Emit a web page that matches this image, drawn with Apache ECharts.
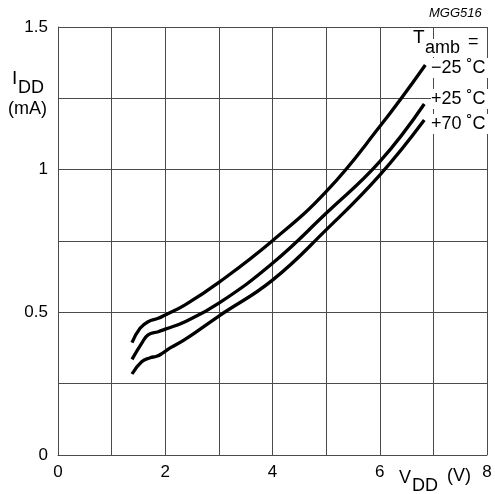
<!DOCTYPE html>
<html>
<head>
<meta charset="utf-8">
<script src="https://cdn.jsdelivr.net/npm/echarts@6/dist/echarts.min.js"></script>
<style>
  html, body { margin: 0; padding: 0; background: #fff; }
  #chart { width: 495px; height: 494px; }
</style>
</head>
<body>
<div id="chart"></div>
<script>
// supply voltage (V) and supply current (mA)
var vddMinus25 = [1.38, 1.53, 1.68, 1.87, 2.0, 2.37, 3.0, 4.0, 5.0, 6.0, 6.85];
var iddMinus25 = [0.394, 0.444, 0.467, 0.479, 0.491, 0.526, 0.605, 0.751, 0.923, 1.151, 1.367];

var vddPlus25 = [1.38, 1.56, 1.68, 1.87, 2.0, 2.37, 3.0, 4.0, 5.0, 6.0, 6.83];
var iddPlus25 = [0.335, 0.391, 0.421, 0.432, 0.441, 0.467, 0.532, 0.672, 0.847, 1.028, 1.230];

var vddPlus70 = [1.38, 1.56, 1.72, 1.84, 1.95, 2.1, 2.37, 3.0, 4.0, 5.0, 6.0, 6.83];
var iddPlus70 = [0.284, 0.327, 0.341, 0.346, 0.357, 0.376, 0.405, 0.487, 0.613, 0.789, 0.981, 1.174];

var xTickLabels = ['0', '2', '4', '6', '8'];
var yTickLabels = ['0', '0.5', '1', '1.5'];
var seriesNames = ['\u221225 \u02daC', '+25 \u02daC', '+70 \u02daC'];

function pairs(xs, ys) {
    var out = [];
    for (var i = 0; i < xs.length; i++) out.push([xs[i], ys[i]]);
    return out;
}

var font = '"Liberation Sans", Arial, Helvetica, sans-serif';
var gridColor = '#4a4a4a';

var chart = echarts.init(document.getElementById('chart'), null, { renderer: 'canvas' });

function lineSeries(name, xs, ys) {
    return {
        name: name,
        type: 'line',
        smooth: 0.45,
        showSymbol: false,
        silent: true,
        z: 3,
        lineStyle: { color: '#000', width: 3.3 },
        data: pairs(xs, ys)
    };
}

function txt(x, y, s, size, extra) {
    var st = { text: s, x: 0, y: 0, fill: '#000', font: (size || 18) + 'px ' + font };
    if (extra) for (var k in extra) st[k] = extra[k];
    return { type: 'text', x: x, y: y, z: 10, style: st };
}

var option = {
    animation: false,
    backgroundColor: '#fff',
    grid: { left: 58, right: 8, top: 27, bottom: 39 },
    xAxis: {
        type: 'value',
        min: 0,
        max: 8,
        interval: 1,
        axisLine: { show: true, lineStyle: { color: gridColor, width: 1 } },
        axisTick: { show: false },
        splitLine: { show: true, lineStyle: { color: gridColor, width: 1 } },
        axisLabel: {
            color: '#000',
            fontFamily: font,
            fontSize: 17,
            margin: 9,
            formatter: function (v) {
                var i = xTickLabels.indexOf(String(v));
                return i >= 0 ? xTickLabels[i] : '';
            }
        }
    },
    yAxis: {
        type: 'value',
        min: 0,
        max: 1.5,
        interval: 0.25,
        axisLine: { show: true, lineStyle: { color: gridColor, width: 1 } },
        axisTick: { show: false },
        splitLine: { show: true, lineStyle: { color: gridColor, width: 1 } },
        axisLabel: {
            color: '#000',
            fontFamily: font,
            fontSize: 17,
            margin: 10,
            formatter: function (v) {
                var i = yTickLabels.indexOf(String(v));
                return i >= 0 ? yTickLabels[i] : '';
            }
        }
    },
    series: [
        lineSeries(seriesNames[0], vddMinus25, iddMinus25),
        lineSeries(seriesNames[1], vddPlus25, iddPlus25),
        lineSeries(seriesNames[2], vddPlus70, iddPlus70)
    ],
    graphic: [
        // drawing code
        txt(429, 7, 'MGG516', 13, { font: 'italic 13px ' + font }),
        // y axis title
        txt(12, 69, 'I', 19),
        txt(18, 79, 'DD', 18),
        txt(8, 100, '(mA)', 18),
        // x axis title
        txt(399, 469, 'V', 18),
        txt(412, 477, 'DD', 18),
        txt(447, 467, '(V)', 18),
        // temperature labels
        txt(412, 28, 'T', 19, { backgroundColor: '#fff', padding: [0, 1, 0, 1] }),
        txt(425, 39, 'amb', 18, { backgroundColor: '#fff' }),
        txt(466, 33, '=', 18, { backgroundColor: '#fff', padding: [0, 3, 0, 2] }),
        txt(431, 58, seriesNames[0], 18, { backgroundColor: '#fff', padding: [1, 3, 1, 0] }),
        txt(431, 89, seriesNames[1], 18, { backgroundColor: '#fff', padding: [1, 3, 1, 0] }),
        txt(431, 114, seriesNames[2], 18, { backgroundColor: '#fff', padding: [1, 3, 1, 0] })
    ]
};

chart.setOption(option);
</script>
</body>
</html>
